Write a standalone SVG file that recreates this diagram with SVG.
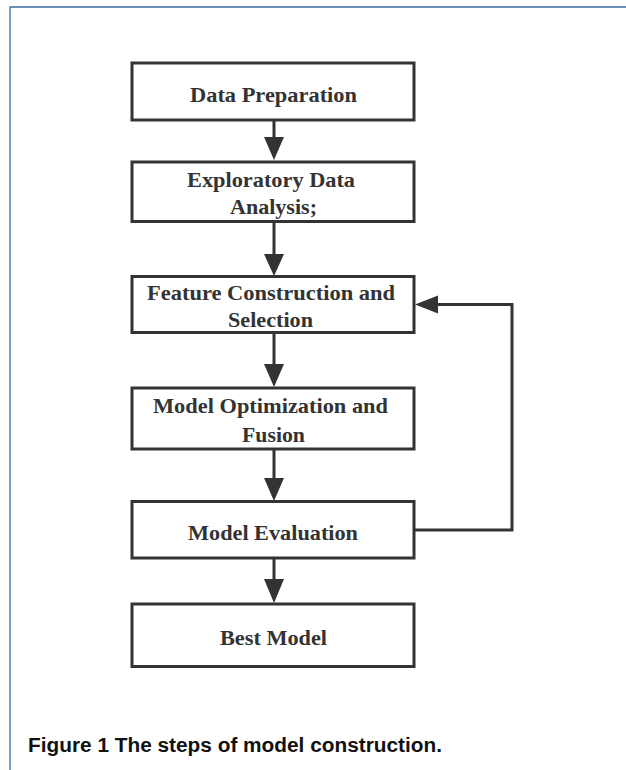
<svg xmlns="http://www.w3.org/2000/svg" width="626" height="770" viewBox="0 0 626 770">
  <style>
    .box rect { fill: #ffffff; stroke: #333333; stroke-width: 3; }
    .box text { font-family: "Liberation Serif", "Times New Roman", serif; font-weight: bold; font-size: 22px; fill: #333333; text-anchor: middle; }
    .conn line, .conn polyline { stroke: #333333; stroke-width: 3; fill: none; }
    .conn polygon { fill: #333333; stroke: none; }
    .frame { stroke: #3b6aa0; stroke-width: 1.3; fill: none; }
    .caption { font-family: "Liberation Sans", Arial, sans-serif; font-weight: bold; font-size: 19.5px; fill: #111111; }
  </style>

  <rect width="626" height="770" fill="#ffffff"/>
  <!-- frame edges -->
  <polyline class="frame" points="10,770 10,7 626,7"/>

  <!-- connectors -->
  <g id="connectors" class="conn">
    <line x1="274" y1="120" x2="274" y2="140"/>
    <polygon points="264,137 284,137 274,160"/>

    <line x1="274" y1="221" x2="274" y2="257"/>
    <polygon points="264,254 284,254 274,276"/>

    <line x1="274" y1="332" x2="274" y2="367"/>
    <polygon points="264,364 284,364 274,387"/>

    <line x1="274" y1="449" x2="274" y2="481"/>
    <polygon points="264,478 284,478 274,501"/>

    <line x1="274" y1="558" x2="274" y2="582"/>
    <polygon points="264,579 284,579 274,603"/>

    <!-- feedback loop: evaluation back to feature construction -->
    <polyline points="414,530 512,530 512,304.5 435,304.5"/>
    <polygon points="438,295.5 438,313.5 415,304.5"/>
  </g>

  <g id="data-preparation" class="box">
    <rect x="132" y="63" width="282" height="57"/>
    <text x="273.5" y="101.5" textLength="167" lengthAdjust="spacingAndGlyphs">Data Preparation</text>
  </g>

  <g id="exploratory-data-analysis" class="box">
    <rect x="132" y="162" width="282" height="59.5"/>
    <text x="271" y="186.5" textLength="168" lengthAdjust="spacingAndGlyphs">Exploratory Data</text>
    <text x="273.5" y="214" textLength="87" lengthAdjust="spacingAndGlyphs">Analysis;</text>
  </g>

  <g id="feature-construction" class="box">
    <rect x="132" y="276.5" width="282" height="56"/>
    <text x="271" y="300" textLength="248" lengthAdjust="spacingAndGlyphs">Feature Construction and</text>
    <text x="270.5" y="326.5" textLength="85" lengthAdjust="spacingAndGlyphs">Selection</text>
  </g>

  <g id="model-optimization" class="box">
    <rect x="132" y="388" width="282" height="61"/>
    <text x="270.5" y="413" textLength="235" lengthAdjust="spacingAndGlyphs">Model Optimization and</text>
    <text x="273.5" y="441.5" textLength="63" lengthAdjust="spacingAndGlyphs">Fusion</text>
  </g>

  <g id="model-evaluation" class="box">
    <rect x="132" y="501.5" width="282" height="56.5"/>
    <text x="273" y="540" textLength="170" lengthAdjust="spacingAndGlyphs">Model Evaluation</text>
  </g>

  <g id="best-model" class="box">
    <rect x="132" y="604" width="282" height="62.5"/>
    <text x="273.5" y="645" textLength="107" lengthAdjust="spacingAndGlyphs">Best Model</text>
  </g>

  <text class="caption" x="28" y="751.5" textLength="414" lengthAdjust="spacingAndGlyphs">Figure 1  The steps of model construction.</text>
</svg>
